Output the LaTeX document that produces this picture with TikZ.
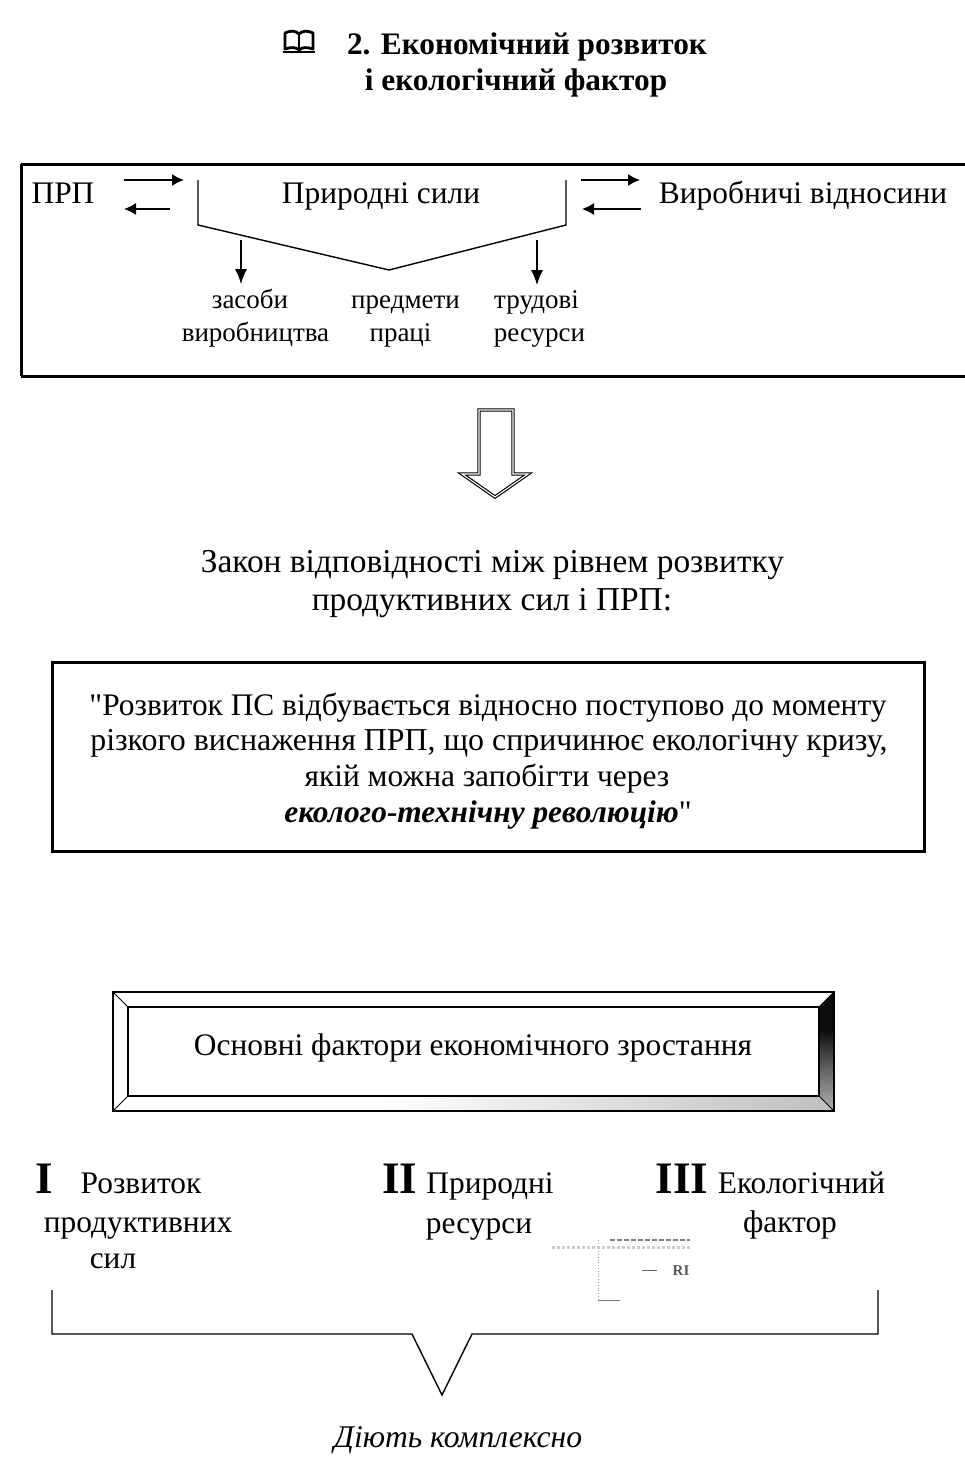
\documentclass[tikz,border=0pt]{standalone}
\usepackage{fontspec}
\setmainfont{Liberation Serif}
\newfontfamily\plainq{Liberation Serif}
\usetikzlibrary{arrows.meta}
\newcommand{\fsz}[1]{\fontsize{#1}{#1}\selectfont}
\tikzset{
  x=1pt,y=-1pt,
  lbl/.style={anchor=base,inner sep=0pt,outer sep=0pt,font=\fsz{31.4}},
  lawtxt/.style={anchor=base,inner sep=0pt,outer sep=0pt,font=\fsz{33.4}},
  small/.style={anchor=base,inner sep=0pt,outer sep=0pt,font=\fsz{27}},
  head/.style={anchor=base,inner sep=0pt,outer sep=0pt,font=\fsz{31.3}\bfseries},
  roman/.style={anchor=base,inner sep=0pt,outer sep=0pt,font=\fsz{45}\bfseries},
  framebox/.style={draw=black,line width=3pt},
  thinline/.style={draw=black,line width=1.4pt},
  arr/.style={draw=black,line width=1.5pt,-{Latex[length=12pt,width=12pt]}},
  lightarr/.style={draw=black,line width=1.2pt,-{Latex[length=15pt,width=12pt]}},
}
\begin{document}
\begin{tikzpicture}
\useasboundingbox (0,0) rectangle (964,1467);
% title
\node[head] (t1) at (527,54) {2. Економічний розвиток};
\node[head] (t2) at (516,90) {і екологічний фактор};
% book icon
\draw[line width=2.8pt,line join=round] (285,33) .. controls (291,30) and (296,31) .. (299,34) .. controls (302,31) and (307,30) .. (313,33) -- (313,49) .. controls (307,47) and (302,47) .. (299,50) .. controls (296,47) and (291,47) .. (285,49) -- cycle;
\draw[line width=2pt] (299,34) -- (299,50);
\draw[line width=2.8pt] (283,52) -- (315,52);
% top box
\draw[framebox] (21,164) -- (970,164);
\draw[framebox] (21,164) -- (21,376);
\draw[framebox] (21,376) -- (970,376);
\node[lbl] (prp) at (63,203) {ПРП};
\node[lbl] (ps) at (381,203) {Природні сили};
\node[lbl] (vv) at (803,203) {Виробничі відносини};
\coordinate (a1s) at (124,180); \coordinate (a1e) at (184,180);
\coordinate (a2s) at (170,209); \coordinate (a2e) at (124,209);
\coordinate (a3s) at (581,180); \coordinate (a3e) at (640,180);
\coordinate (a4s) at (641,209); \coordinate (a4e) at (582,209);
\draw[arr] (a1s) -- (a1e);
\draw[arr] (a2s) -- (a2e);
\draw[arr] (a3s) -- (a3e);
\draw[arr] (a4s) -- (a4e);
\coordinate (bl) at (198,180); \coordinate (br) at (566,180);
\coordinate (bl2) at (198,225); \coordinate (br2) at (566,225);
\coordinate (bm) at (389,270);
\draw[thinline,line join=miter] (bl) -- (bl2) -- (bm) -- (br2) -- (br);
\node[small] (s1a) at (250,308) {засоби};
\node[small] (s1b) at (255.5,341) {виробництва};
\node[small] (s2a) at (405.5,308) {предмети};
\node[small] (s2b) at (400.5,341) {праці};
\node[small] (s3a) at (536.5,308) {трудові};
\node[small] (s3b) at (539.5,341) {ресурси};
\coordinate (d1) at (241,240); \coordinate (d2) at (537,240);
\coordinate (d1e) at (241,284); \coordinate (d2e) at (537,285);
\draw[lightarr] (d1) -- (d1e);
\draw[lightarr] (d2) -- (d2e);
% hollow arrow
\draw[line width=3.4pt,line join=miter] (479,410) -- (513,410) -- (513,474) -- (528,474) -- (495,497) -- (462,474) -- (479,474) -- cycle;
\draw[white,line width=1.1pt,line join=miter] (479,410) -- (513,410) -- (513,474) -- (528,474) -- (495,497) -- (462,474) -- (479,474) -- cycle;
% law
\node[lawtxt] (l1) at (492.5,572) {Закон відповідності між рівнем розвитку};
\node[lawtxt] (l2) at (492,610) {продуктивних сил і ПРП:};
% quote box
\node[draw=black,line width=3pt,minimum width=872pt,minimum height=189pt,inner sep=0pt] (qb) at (488,757) {};
\node[lbl] (q1) at (488,715) {{\plainq "}Розвиток ПС відбувається відносно поступово до моменту};
\node[lbl,font=\fsz{31.9}] (q2) at (489,750) {різкого виснаження ПРП, що спричинює екологічну кризу,};
\node[lbl] (q3) at (487,786) {якій можна запобігти через};
\node[lbl] (q4) at (488,822) {{\bfseries\itshape еколого-технічну революцію}{\plainq "}};
% bevel box
\coordinate (o1) at (113,992); \coordinate (o2) at (834,992); \coordinate (o3) at (834,1111); \coordinate (o4) at (113,1111);
\coordinate (i1) at (128,1007); \coordinate (i2) at (819,1007); \coordinate (i3) at (819,1096); \coordinate (i4) at (128,1096);
\begin{scope}
\clip (o2) -- (o3) -- (i3) -- (i2) -- cycle;
\shade[top color=black!95,bottom color=black!30,middle color=black!60] (819,1030) rectangle (834,1111);
\fill[black!95] (819,992) rectangle (834,1032);
\end{scope}
\begin{scope}
\clip (o4) -- (o3) -- (i3) -- (i4) -- cycle;
\shade[left color=white,right color=black!25] (380,1096) rectangle (834,1111);
\end{scope}
\draw[black,line width=1.6pt] (o1) rectangle (o3);
\draw[black,line width=1.6pt] (i1) rectangle (i3);
\draw[black,line width=1pt] (o1) -- (i1) (o2) -- (i2) (o3) -- (i3) (o4) -- (i4);
\node[lbl] (ot) at (473,1055) {Основні фактори економічного зростання};
% factors
\node[roman] (r1) at (44.5,1193) {I};
\node[lbl] (f1a) at (141,1193) {Розвиток};
\node[lbl] (f1b) at (138,1232) {продуктивних};
\node[lbl] (f1c) at (113,1268) {сил};
\node[roman] (r2) at (400,1193) {II};
\node[lbl] (f2a) at (490,1193) {Природні};
\node[lbl] (f2b) at (479,1233) {ресурси};
\node[roman] (r3) at (682,1193) {III};
\node[lbl] (f3a) at (801.5,1193) {Екологічний};
\node[lbl] (f3b) at (790,1232) {фактор};
% scan fragment
\draw[black!40,line width=.8pt,dotted] (598,1240) -- (598,1300);
\draw[black!55,line width=.8pt] (598,1300) -- (620,1300);
\draw[black!50,line width=1.5pt,dash pattern=on 5pt off 2pt] (610,1240) -- (690,1240);
\draw[black!20,line width=3pt,dotted] (552,1247) -- (690,1247);
\draw[black!60,line width=1pt] (642,1270) -- (657,1270);
\node[anchor=base,inner sep=0pt,text=black!65,font=\fsz{15}\bfseries] (ri) at (681,1275) {RI};
% bracket
\coordinate (c1) at (52,1290); \coordinate (c2) at (52,1334); \coordinate (c3) at (412,1334);
\coordinate (c4) at (442,1395); \coordinate (c5) at (472,1334); \coordinate (c6) at (878,1334); \coordinate (c7) at (878,1290);
\draw[thinline,line join=miter] (c1) -- (c2) -- (c3) -- (c4) -- (c5) -- (c6) -- (c7);
\node[anchor=base,inner sep=0pt,font=\fsz{31.6}\itshape] (dk) at (458,1447) {Діють комплексно};
\end{tikzpicture}
\end{document}
